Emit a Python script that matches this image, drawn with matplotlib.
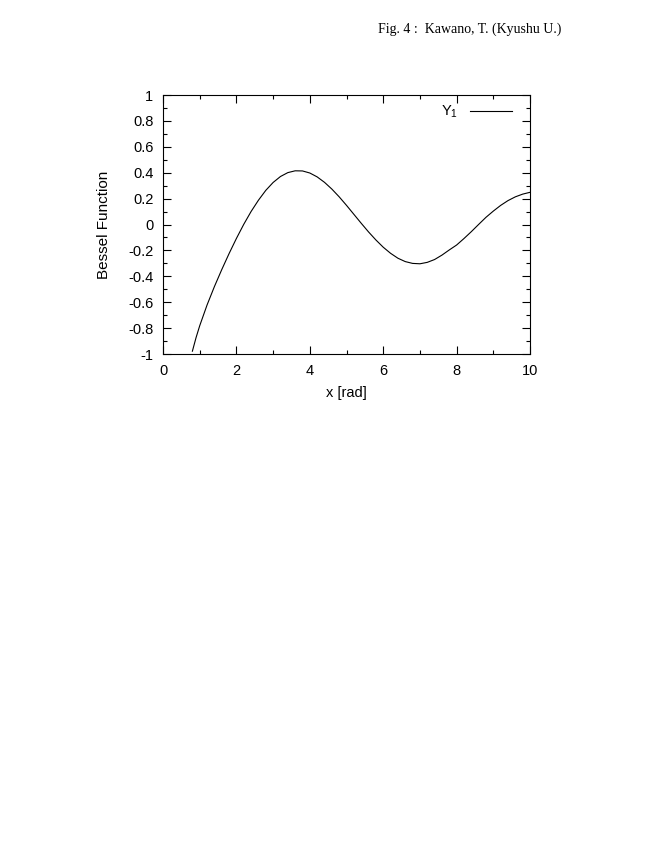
import numpy as np
import matplotlib.pyplot as plt
from matplotlib.ticker import MultipleLocator

# values
x = [0.8, 0.9, 1.0, 1.2, 1.4, 1.6, 1.8, 2.0, 2.2, 2.4, 2.6, 2.8, 3.0, 3.2, 3.4,
     3.6, 3.8, 4.0, 4.2, 4.4, 4.6, 4.8, 5.0, 5.2, 5.4, 5.6, 5.8, 6.0, 6.2, 6.4,
     6.6, 6.8, 7.0, 7.2, 7.4, 7.6, 7.8, 8.0, 8.2, 8.4, 8.6, 8.8, 9.0, 9.2, 9.4,
     9.6, 9.8, 10.0]
y1 = [-0.978, -0.873, -0.781, -0.621, -0.479, -0.348, -0.224, -0.107, 0.002,
      0.101, 0.188, 0.264, 0.325, 0.371, 0.401, 0.415, 0.414, 0.398, 0.368,
      0.326, 0.274, 0.214, 0.148, 0.079, 0.010, -0.057, -0.119, -0.175, -0.222,
      -0.260, -0.286, -0.300, -0.303, -0.292, -0.270, -0.236, -0.196, -0.158,
      -0.108, -0.055, 0.001, 0.056, 0.104, 0.148, 0.185, 0.214, 0.235, 0.249]
yticklabels = ['-1', '-0.8', '-0.6', '-0.4', '-0.2', '0', '0.2', '0.4', '0.6', '0.8', '1']

plt.rcParams['font.family'] = ['Liberation Sans', 'DejaVu Sans']
plt.rcParams['mathtext.fontset'] = 'custom'
plt.rcParams['mathtext.rm'] = 'Liberation Sans'

fig = plt.figure(figsize=(6.55, 8.48), dpi=100)
fig.text(0.7176, 0.966, 'Fig. 4 :  Kawano, T. (Kyushu U.)', ha='center', va='center',
         family='Liberation Serif', fontsize=10)

ax = fig.add_axes([0.2489, 0.5825, 0.5603, 0.3054])
ax.plot(x, y1, color='black', lw=0.8, label='Y$\\mathregular{_1}$')
ax.set_xlim(0, 10)
ax.set_ylim(-1, 1)
ax.xaxis.set_major_locator(MultipleLocator(2))
ax.xaxis.set_minor_locator(MultipleLocator(1))
ax.yaxis.set_minor_locator(MultipleLocator(0.1))
ax.set_yticks(np.arange(-1, 1.01, 0.2))
ax.set_yticklabels(yticklabels)
ax.tick_params(which='both', direction='in', top=True, right=True, labelsize=10.5, width=0.8)
ax.tick_params(which='major', length=6)
ax.tick_params(axis='y', which='major', pad=7)
ax.tick_params(axis='x', which='major', pad=7)
ax.tick_params(which='minor', length=3)
for s in ax.spines.values():
    s.set_linewidth(0.8)
ax.set_xlabel('x [rad]', fontsize=10.5, labelpad=6)
ax.set_ylabel('Bessel Function', fontsize=11, labelpad=12)
ax.legend(loc='upper right', frameon=False, markerfirst=False, fontsize=10.5,
          handlelength=2.9, borderaxespad=0.2, handletextpad=0.8,
          bbox_to_anchor=(0.975, 1.0))

fig.savefig('out.png', dpi=100)
